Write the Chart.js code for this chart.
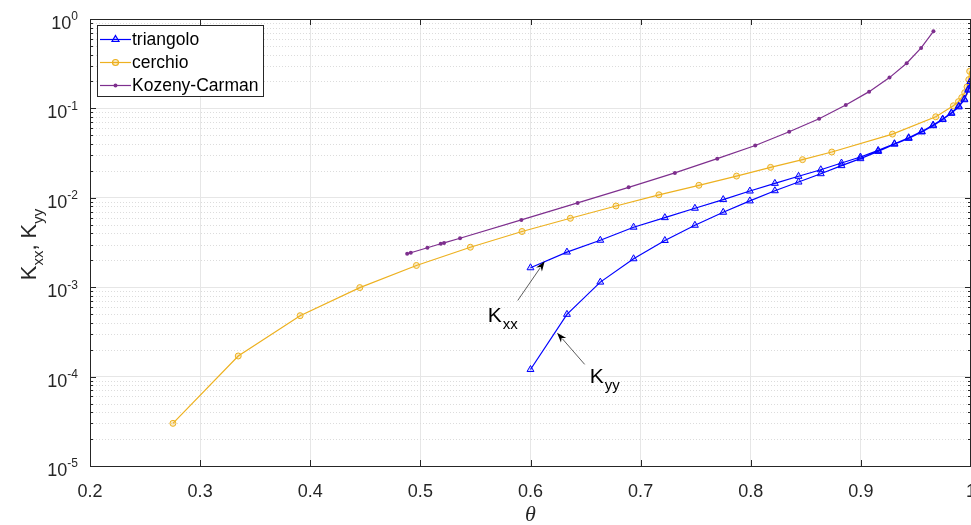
<!DOCTYPE html>
<html><head><meta charset="utf-8">
<script src="https://cdn.jsdelivr.net/npm/chart.js@4.4.0/dist/chart.umd.min.js"></script>
<style>html,body{margin:0;padding:0;background:#fff;}#wrap{width:971px;height:525px;position:relative;}</style>
</head><body><div id="wrap"><canvas id="c" width="971" height="525"></canvas></div>
<script>
// ---- data ----
const thetaTri = [0.6, 0.6331, 0.6634, 0.6936, 0.722, 0.7493, 0.775, 0.7992, 0.8219, 0.8434, 0.8636, 0.8824, 0.8996, 0.9157, 0.9305, 0.9434, 0.9553, 0.9656, 0.9743, 0.9822, 0.9889, 0.994, 0.9976, 0.9995];
const kxxTri = [1.65e-3, 2.47e-3, 3.35e-3, 4.69e-3, 6.0e-3, 7.64e-3, 9.55e-3, 1.19e-2, 1.45e-2, 1.74e-2, 2.06e-2, 2.45e-2, 2.86e-2, 3.39e-2, 4.03e-2, 4.70e-2, 5.53e-2, 6.51e-2, 7.59e-2, 8.93e-2, 0.106, 0.127, 0.164, 0.2];
const kyyTri = [1.20e-4, 4.97e-4, 1.14e-3, 2.08e-3, 3.33e-3, 4.93e-3, 6.89e-3, 9.23e-3, 1.20e-2, 1.50e-2, 1.86e-2, 2.29e-2, 2.74e-2, 3.30e-2, 3.98e-2, 4.62e-2, 5.45e-2, 6.40e-2, 7.50e-2, 8.80e-2, 0.104, 0.125, 0.160, 0.2];
const thetaCerchio = [0.2753, 0.3346, 0.3908, 0.445, 0.4964, 0.5454, 0.5923, 0.6362, 0.6776, 0.7166, 0.7529, 0.7871, 0.818, 0.847, 0.8736, 0.9287, 0.968, 0.984, 0.9886, 0.9916, 0.9943, 0.9964, 0.998, 0.9988];
const kCerchio = [3.0e-5, 1.7e-4, 4.8e-4, 9.9e-4, 1.75e-3, 2.8e-3, 4.2e-3, 5.9e-3, 8.1e-3, 1.08e-2, 1.38e-2, 1.75e-2, 2.19e-2, 2.67e-2, 3.25e-2, 5.16e-2, 8.06e-2, 0.107, 0.119, 0.132, 0.150, 0.174, 0.21, 0.26];
const thetaKC = [0.488, 0.4913, 0.5064, 0.5185, 0.5215, 0.536, 0.5917, 0.6428, 0.6891, 0.7311, 0.7696, 0.8041, 0.8349, 0.8621, 0.8863, 0.9075, 0.926, 0.9416, 0.9547, 0.9659];
const kKC = [2.37e-3, 2.43e-3, 2.76e-3, 3.06e-3, 3.13e-3, 3.53e-3, 5.66e-3, 8.77e-3, 1.31e-2, 1.90e-2, 2.74e-2, 3.85e-2, 5.48e-2, 7.65e-2, 0.109, 0.154, 0.221, 0.320, 0.475, 0.729];
const seriesNames = ['triangolo', 'cerchio', 'Kozeny-Carman'];
const xTicks = [0.2, 0.3, 0.4, 0.5, 0.6, 0.7, 0.8, 0.9, 1.0];
const xTickLabels = ['0.2', '0.3', '0.4', '0.5', '0.6', '0.7', '0.8', '0.9', '1'];
const yDecadeExps = [-5, -4, -3, -2, -1, 0];
const xTitle = 'θ';

// ---- build datasets ----
const triPts = thetaTri.map((t, i) => ({x: t, y: kxxTri[i]}))
  .concat(thetaTri.map((t, i) => ({x: t, y: kyyTri[i]})).reverse());
const cerPts = thetaCerchio.map((t, i) => ({x: t, y: kCerchio[i]}));
const kcPts = thetaKC.map((t, i) => ({x: t, y: kKC[i]}));

const BLUE = '#0000FF', YEL = '#EDB120', PUR = '#7E2F8E', AX = '#262626';
const FONT = '"Liberation Sans", Arial, Helvetica, sans-serif';

const matlab = {
  id: 'matlab',
  beforeDatasetsDraw(chart) {
    const {ctx, chartArea: a, scales: {y}} = chart;
    ctx.save();
    ctx.strokeStyle = '#dcdcdc';
    ctx.lineWidth = 1;
    ctx.setLineDash([1, 2]);
    for (let e = -5; e < 0; e++) {
      for (let m = 2; m <= 9; m++) {
        const py = Math.round(y.getPixelForValue(m * Math.pow(10, e))) + 0.5;
        ctx.beginPath(); ctx.moveTo(a.left, py); ctx.lineTo(a.right, py); ctx.stroke();
      }
    }
    ctx.restore();
  },
  afterDatasetsDraw(chart) {
    const {ctx, chartArea: a, scales: {x, y}} = chart;
    ctx.save();
    // axis box
    ctx.strokeStyle = AX; ctx.lineWidth = 1;
    ctx.strokeRect(a.left + 0.5, a.top + 0.5, a.right - a.left - 1, a.bottom - a.top);
    // x ticks (bottom & top, inward)
    ctx.beginPath();
    xTicks.forEach(v => {
      const px = Math.round(x.getPixelForValue(v)) + 0.5;
      ctx.moveTo(px, a.bottom); ctx.lineTo(px, a.bottom - 6);
      ctx.moveTo(px, a.top); ctx.lineTo(px, a.top + 6);
    });
    // y ticks (left & right)
    for (let e = -5; e <= 0; e++) {
      for (let m = 1; m <= 9; m++) {
        if (e === 0 && m > 1) break;
        const py = Math.round(y.getPixelForValue(m * Math.pow(10, e))) + 0.5;
        const len = m === 1 ? 6 : 3;
        ctx.moveTo(a.left, py); ctx.lineTo(a.left + len, py);
        ctx.moveTo(a.right, py); ctx.lineTo(a.right - len, py);
      }
    }
    ctx.stroke();

    // annotations (arrows + labels) in data coordinates
    const arrow = (x0, y0, x1, y1) => {
      const p0 = [x.getPixelForValue(x0), y.getPixelForValue(y0)];
      const p1 = [x.getPixelForValue(x1), y.getPixelForValue(y1)];
      const ang = Math.atan2(p1[1] - p0[1], p1[0] - p0[0]);
      const L = 10, W = 3.5;
      ctx.strokeStyle = '#333'; ctx.fillStyle = '#000'; ctx.lineWidth = 0.8;
      ctx.beginPath(); ctx.moveTo(p0[0], p0[1]);
      ctx.lineTo(p1[0] - Math.cos(ang) * L * 0.8, p1[1] - Math.sin(ang) * L * 0.8); ctx.stroke();
      ctx.beginPath();
      ctx.moveTo(p1[0], p1[1]);
      ctx.lineTo(p1[0] - Math.cos(ang) * L - Math.sin(ang) * W, p1[1] - Math.sin(ang) * L + Math.cos(ang) * W);
      ctx.lineTo(p1[0] - Math.cos(ang) * L * 0.7, p1[1] - Math.sin(ang) * L * 0.7);
      ctx.lineTo(p1[0] - Math.cos(ang) * L + Math.sin(ang) * W, p1[1] - Math.sin(ang) * L - Math.cos(ang) * W);
      ctx.closePath(); ctx.fill();
    };
    const subText = (main, sub, xv, yv) => {
      const px = x.getPixelForValue(xv), py = y.getPixelForValue(yv);
      ctx.fillStyle = '#000'; ctx.textAlign = 'left'; ctx.textBaseline = 'alphabetic';
      ctx.font = '21px ' + FONT;
      ctx.fillText(main, px, py);
      const w = ctx.measureText(main).width;
      ctx.font = '15px ' + FONT;
      ctx.fillText(sub, px + w + 1, py + 7);
    };
    arrow(0.5884, 7.1e-4, 0.6129, 1.95e-3);
    subText('K', 'xx', 0.5612, 4.1e-4);
    arrow(0.6492, 1.37e-4, 0.6241, 3.1e-4);
    subText('K', 'yy', 0.6537, 8.5e-5);

    // legend
    const lx = 97, ly = 25, lw = 166, lh = 71;
    ctx.fillStyle = '#fff'; ctx.fillRect(lx, ly, lw, lh);
    ctx.strokeStyle = AX; ctx.lineWidth = 1; ctx.strokeRect(lx + 0.5, ly + 0.5, lw, lh);
    const cols = [BLUE, YEL, PUR];
    ctx.font = '17.5px ' + FONT; ctx.textBaseline = 'middle'; ctx.textAlign = 'left';
    seriesNames.forEach((n, i) => {
      const yy = 39 + i * 23;
      ctx.strokeStyle = cols[i]; ctx.lineWidth = 1.2;
      ctx.beginPath(); ctx.moveTo(100, yy + 0.5); ctx.lineTo(131, yy + 0.5); ctx.stroke();
      const cx = 115.5;
      ctx.beginPath();
      if (i === 0) {
        ctx.moveTo(cx, yy - 3.5); ctx.lineTo(cx + 3.5, yy + 2.5); ctx.lineTo(cx - 3.5, yy + 2.5); ctx.closePath();
        ctx.fillStyle = 'rgba(0,0,255,0.15)'; ctx.fill(); ctx.stroke();
      } else if (i === 1) {
        ctx.arc(cx, yy + 0.5, 3, 0, Math.PI * 2); ctx.fillStyle = 'rgba(237,177,32,0.25)'; ctx.fill(); ctx.stroke();
      } else {
        ctx.arc(cx, yy + 0.5, 2, 0, Math.PI * 2); ctx.fillStyle = PUR; ctx.fill();
      }
      ctx.fillStyle = '#000';
      ctx.fillText(n, 132, yy + 1);
    });
    ctx.restore();
  },
  afterDraw(chart) {
    const {ctx, chartArea: a, scales: {x, y}} = chart;
    ctx.save();
    ctx.fillStyle = '#262626';
    // x tick labels
    ctx.font = '18px ' + FONT; ctx.textAlign = 'center'; ctx.textBaseline = 'middle';
    xTicks.forEach((v, i) => ctx.fillText(xTickLabels[i], x.getPixelForValue(v), 492));
    // y tick labels 10^e
    yDecadeExps.forEach(e => {
      const py = y.getPixelForValue(Math.pow(10, e));
      const sup = String(e);
      ctx.font = '12px ' + FONT; const ws = ctx.measureText(sup).width;
      const right = 78;
      ctx.textAlign = 'left'; ctx.textBaseline = 'middle';
      ctx.fillText(sup, right - ws, py - 2);
      ctx.font = '18px ' + FONT; ctx.textAlign = 'right';
      ctx.fillText('10', right - ws, py + 5);
    });
    // x title
    ctx.fillStyle = '#262626';
    ctx.font = 'italic 22px "Liberation Serif", "DejaVu Serif", serif';
    ctx.textAlign = 'center'; ctx.textBaseline = 'middle';
    ctx.fillText(xTitle, (a.left + a.right) / 2, 515);
    // y title Kxx, Kyy (rotated)
    ctx.translate(28, (a.top + a.bottom) / 2 + 2);
    ctx.rotate(-Math.PI / 2);
    const parts = [['K', 22, 0], ['xx', 15, 7], [', ', 22, 0], ['K', 22, 0], ['yy', 15, 7]];
    let tot = 0;
    parts.forEach(p => { ctx.font = p[1] + 'px ' + FONT; tot += ctx.measureText(p[0]).width; });
    let cx = -tot / 2;
    ctx.textAlign = 'left'; ctx.textBaseline = 'alphabetic';
    parts.forEach(p => { ctx.font = p[1] + 'px ' + FONT; ctx.fillText(p[0], cx, 8 + p[2]); cx += ctx.measureText(p[0]).width; });
    ctx.restore();
  }
};

new Chart(document.getElementById('c'), {
  type: 'scatter',
  data: {
    datasets: [
      {label: seriesNames[0], data: triPts, showLine: true, borderColor: BLUE, borderWidth: 1.2,
       pointStyle: 'triangle', pointRadius: 4, pointBorderWidth: 1, pointBorderColor: BLUE, pointBackgroundColor: 'rgba(0,0,255,0.15)'},
      {label: seriesNames[1], data: cerPts, showLine: true, borderColor: YEL, borderWidth: 1.2,
       pointStyle: 'circle', pointRadius: 3, pointBorderWidth: 1, pointBorderColor: YEL, pointBackgroundColor: 'rgba(237,177,32,0.25)'},
      {label: seriesNames[2], data: kcPts, showLine: true, borderColor: PUR, borderWidth: 1.2,
       pointStyle: 'circle', pointRadius: 2, pointBorderWidth: 0, pointBackgroundColor: PUR}
    ]
  },
  options: {
    responsive: false, animation: false, devicePixelRatio: 1,
    layout: {autoPadding: false, padding: {top: 19, right: 0, left: 0, bottom: 0}},
    plugins: {legend: {display: false}, tooltip: {enabled: false}},
    scales: {
      x: {type: 'linear', min: 0.2, max: 1,
          ticks: {display: false}, grid: {color: '#e6e6e6', drawTicks: false}, border: {display: false},
          afterBuildTicks: s => { s.ticks = xTicks.map(v => ({value: v})); },
          afterFit: s => { s.height = 59; }},
      y: {type: 'logarithmic', min: 1e-5, max: 1,
          ticks: {display: false}, grid: {color: '#e6e6e6', drawTicks: false}, border: {display: false},
          afterBuildTicks: s => { s.ticks = yDecadeExps.map(e => ({value: Math.pow(10, e), major: true})); },
          afterFit: s => { s.width = 90; }}
    }
  },
  plugins: [matlab]
});
</script>
</body></html>
